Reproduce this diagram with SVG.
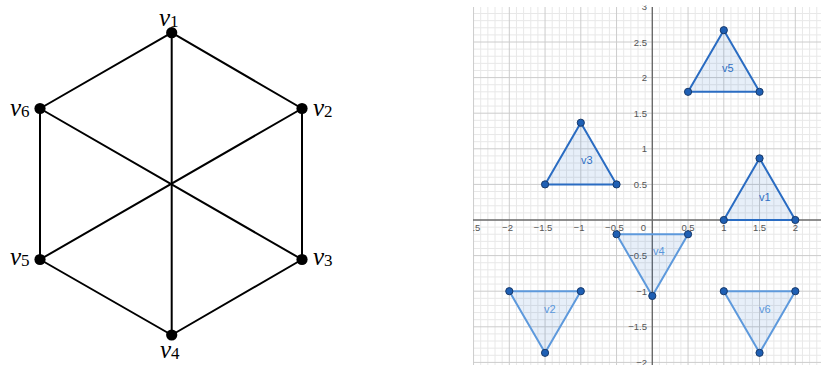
<svg xmlns="http://www.w3.org/2000/svg" width="821" height="365" viewBox="0 0 821 365">
<style>
.edge{stroke:#000;stroke-width:2;fill:none;stroke-linecap:round}
.node{fill:#000}
.lbl{font-family:"Liberation Serif","DejaVu Serif",serif;font-style:italic;font-size:25px;fill:#000}
.sub{font-style:normal;font-size:17px}
.minor{stroke:#e8e8e8;stroke-width:1;fill:none}
.major{stroke:#cccccc;stroke-width:1;fill:none}
.axis{stroke:#6a6a6a;stroke-width:1.4;fill:none}
.tick{font-family:"Liberation Sans",Arial,sans-serif;font-size:9.5px;fill:#555}
.tx{text-anchor:middle}
.ty{text-anchor:end}
.triU{fill:#1565c0;fill-opacity:0.1;stroke:#2a6cc2;stroke-width:2;stroke-linejoin:round}
.triD{fill:#1565c0;fill-opacity:0.1;stroke:#5d99dc;stroke-width:2;stroke-linejoin:round}
.pt{fill:#1e5fb4;stroke:#17396a;stroke-width:1}
.tlU{font-family:"Liberation Sans",Arial,sans-serif;font-size:11px;fill:#2f6fc4}
.tlD{font-family:"Liberation Sans",Arial,sans-serif;font-size:11px;fill:#5a97dc}
</style>
<defs>
<clipPath id="gridclip"><rect x="473" y="7" width="348" height="358"/></clipPath>
<clipPath id="textclip"><rect x="473" y="5.5" width="348" height="360"/></clipPath>
</defs>

<!-- Left graph: connectors -->
<g id="edges">
<line class="edge" x1="171.7" y1="32.7" x2="302" y2="108.5"/>
<line class="edge" x1="302" y1="108.5" x2="302" y2="259.5"/>
<line class="edge" x1="302" y1="259.5" x2="171.7" y2="335"/>
<line class="edge" x1="171.7" y1="335" x2="40" y2="259.5"/>
<line class="edge" x1="40" y1="259.5" x2="40" y2="108.5"/>
<line class="edge" x1="40" y1="108.5" x2="171.7" y2="32.7"/>
<line class="edge" x1="171.7" y1="32.7" x2="171.7" y2="335"/>
<line class="edge" x1="302" y1="108.5" x2="40" y2="259.5"/>
<line class="edge" x1="40" y1="108.5" x2="302" y2="259.5"/>
</g>
<g id="v1"><circle class="node" cx="171.7" cy="32.7" r="5.6"/><text class="lbl" x="159" y="25.5">v<tspan class="sub" dy="1.4">1</tspan></text></g>
<g id="v2"><circle class="node" cx="302" cy="108.5" r="5.6"/><text class="lbl" x="313" y="115.5">v<tspan class="sub" dy="1.4">2</tspan></text></g>
<g id="v3"><circle class="node" cx="302" cy="259.5" r="5.6"/><text class="lbl" x="313" y="265">v<tspan class="sub" dy="1.4">3</tspan></text></g>
<g id="v4"><circle class="node" cx="171.7" cy="335" r="5.6"/><text class="lbl" x="160" y="358">v<tspan class="sub" dy="1.4">4</tspan></text></g>
<g id="v5"><circle class="node" cx="40" cy="259.5" r="5.6"/><text class="lbl" x="10" y="265">v<tspan class="sub" dy="1.4">5</tspan></text></g>
<g id="v6"><circle class="node" cx="40" cy="108.5" r="5.6"/><text class="lbl" x="10" y="115.5">v<tspan class="sub" dy="1.4">6</tspan></text></g>

<!-- Right: coordinate plot -->
<g id="grid" clip-path="url(#gridclip)">
<path class="minor" d="M480.7 0V365M487.85 0V365M495 0V365M502.15 0V365M516.45 0V365M523.6 0V365M530.75 0V365M537.9 0V365M552.2 0V365M559.35 0V365M566.5 0V365M573.65 0V365M587.95 0V365M595.1 0V365M602.25 0V365M609.4 0V365M623.7 0V365M630.85 0V365M638 0V365M645.15 0V365M659.45 0V365M666.6 0V365M673.75 0V365M680.9 0V365M695.2 0V365M702.35 0V365M709.5 0V365M716.65 0V365M730.95 0V365M738.1 0V365M745.25 0V365M752.4 0V365M766.7 0V365M773.85 0V365M781 0V365M788.15 0V365M802.45 0V365M809.6 0V365M816.75 0V365
M473 13.52H821M473 20.64H821M473 27.76H821M473 34.88H821M473 49.12H821M473 56.24H821M473 63.36H821M473 70.48H821M473 84.72H821M473 91.84H821M473 98.96H821M473 106.08H821M473 120.32H821M473 127.44H821M473 134.56H821M473 141.68H821M473 155.92H821M473 163.04H821M473 170.16H821M473 177.28H821M473 191.52H821M473 198.64H821M473 205.76H821M473 212.88H821M473 227.12H821M473 234.24H821M473 241.36H821M473 248.48H821M473 262.72H821M473 269.84H821M473 276.96H821M473 284.08H821M473 298.32H821M473 305.44H821M473 312.56H821M473 319.68H821M473 333.92H821M473 341.04H821M473 348.16H821M473 355.28H821"/>
<path class="major" d="M473.55 0V365M509.3 0V365M545.05 0V365M580.8 0V365M616.55 0V365M688.05 0V365M723.8 0V365M759.55 0V365M795.3 0V365
M473 42H821M473 77.6H821M473 113.2H821M473 148.8H821M473 184.4H821M473 255.6H821M473 291.2H821M473 326.8H821M473 362.4H821"/>
<path class="axis" d="M473 220H821M652.3 7V365"/>
</g>
<g id="ticks" clip-path="url(#textclip)">
<text class="tick tx" x="471" y="231">−2.5</text>
<text class="tick tx" x="507.5" y="231">−2</text>
<text class="tick tx" x="543" y="231">−1.5</text>
<text class="tick tx" x="579" y="231">−1</text>
<text class="tick tx" x="614.5" y="231">−0.5</text>
<text class="tick tx" x="643.5" y="231">0</text>
<text class="tick tx" x="688" y="231">0.5</text>
<text class="tick tx" x="724" y="231">1</text>
<text class="tick tx" x="759.5" y="231">1.5</text>
<text class="tick tx" x="795.5" y="231">2</text>
<text class="tick ty" x="647" y="9.5">3</text>
<text class="tick ty" x="647" y="45.5">2.5</text>
<text class="tick ty" x="647" y="81">2</text>
<text class="tick ty" x="647" y="116.5">1.5</text>
<text class="tick ty" x="647" y="152">1</text>
<text class="tick ty" x="647" y="187.5">0.5</text>
<text class="tick ty" x="647" y="259">−0.5</text>
<text class="tick ty" x="647" y="294.5">−1</text>
<text class="tick ty" x="647" y="330">−1.5</text>
<text class="tick ty" x="647" y="366">−2</text>
</g>

<g id="t1">
<polygon class="triU" points="723.8,220 795.3,220 759.55,158.34"/>
<text class="tlU" x="759" y="201">v1</text>
<circle class="pt" cx="723.8" cy="220" r="3.6"/><circle class="pt" cx="795.3" cy="220" r="3.6"/><circle class="pt" cx="759.55" cy="158.34" r="3.6"/>
</g>
<g id="t3">
<polygon class="triU" points="545.05,184.4 616.55,184.4 580.8,122.74"/>
<text class="tlU" x="581" y="164">v3</text>
<circle class="pt" cx="545.05" cy="184.4" r="3.6"/><circle class="pt" cx="616.55" cy="184.4" r="3.6"/><circle class="pt" cx="580.8" cy="122.74" r="3.6"/>
</g>
<g id="t5">
<polygon class="triU" points="688.05,91.84 759.55,91.84 723.8,30.18"/>
<text class="tlU" x="722" y="72">v5</text>
<circle class="pt" cx="688.05" cy="91.84" r="3.6"/><circle class="pt" cx="759.55" cy="91.84" r="3.6"/><circle class="pt" cx="723.8" cy="30.18" r="3.6"/>
</g>
<g id="t4">
<polygon class="triD" points="616.55,234.24 688.05,234.24 652.3,295.9"/>
<text class="tlD" x="653" y="255">v4</text>
<circle class="pt" cx="616.55" cy="234.24" r="3.6"/><circle class="pt" cx="688.05" cy="234.24" r="3.6"/><circle class="pt" cx="652.3" cy="295.9" r="3.6"/>
</g>
<g id="t2">
<polygon class="triD" points="509.3,291.2 580.8,291.2 545.05,352.86"/>
<text class="tlD" x="544" y="313">v2</text>
<circle class="pt" cx="509.3" cy="291.2" r="3.6"/><circle class="pt" cx="580.8" cy="291.2" r="3.6"/><circle class="pt" cx="545.05" cy="352.86" r="3.6"/>
</g>
<g id="t6">
<polygon class="triD" points="723.8,291.2 795.3,291.2 759.55,352.86"/>
<text class="tlD" x="759" y="313">v6</text>
<circle class="pt" cx="723.8" cy="291.2" r="3.6"/><circle class="pt" cx="795.3" cy="291.2" r="3.6"/><circle class="pt" cx="759.55" cy="352.86" r="3.6"/>
</g>
</svg>
